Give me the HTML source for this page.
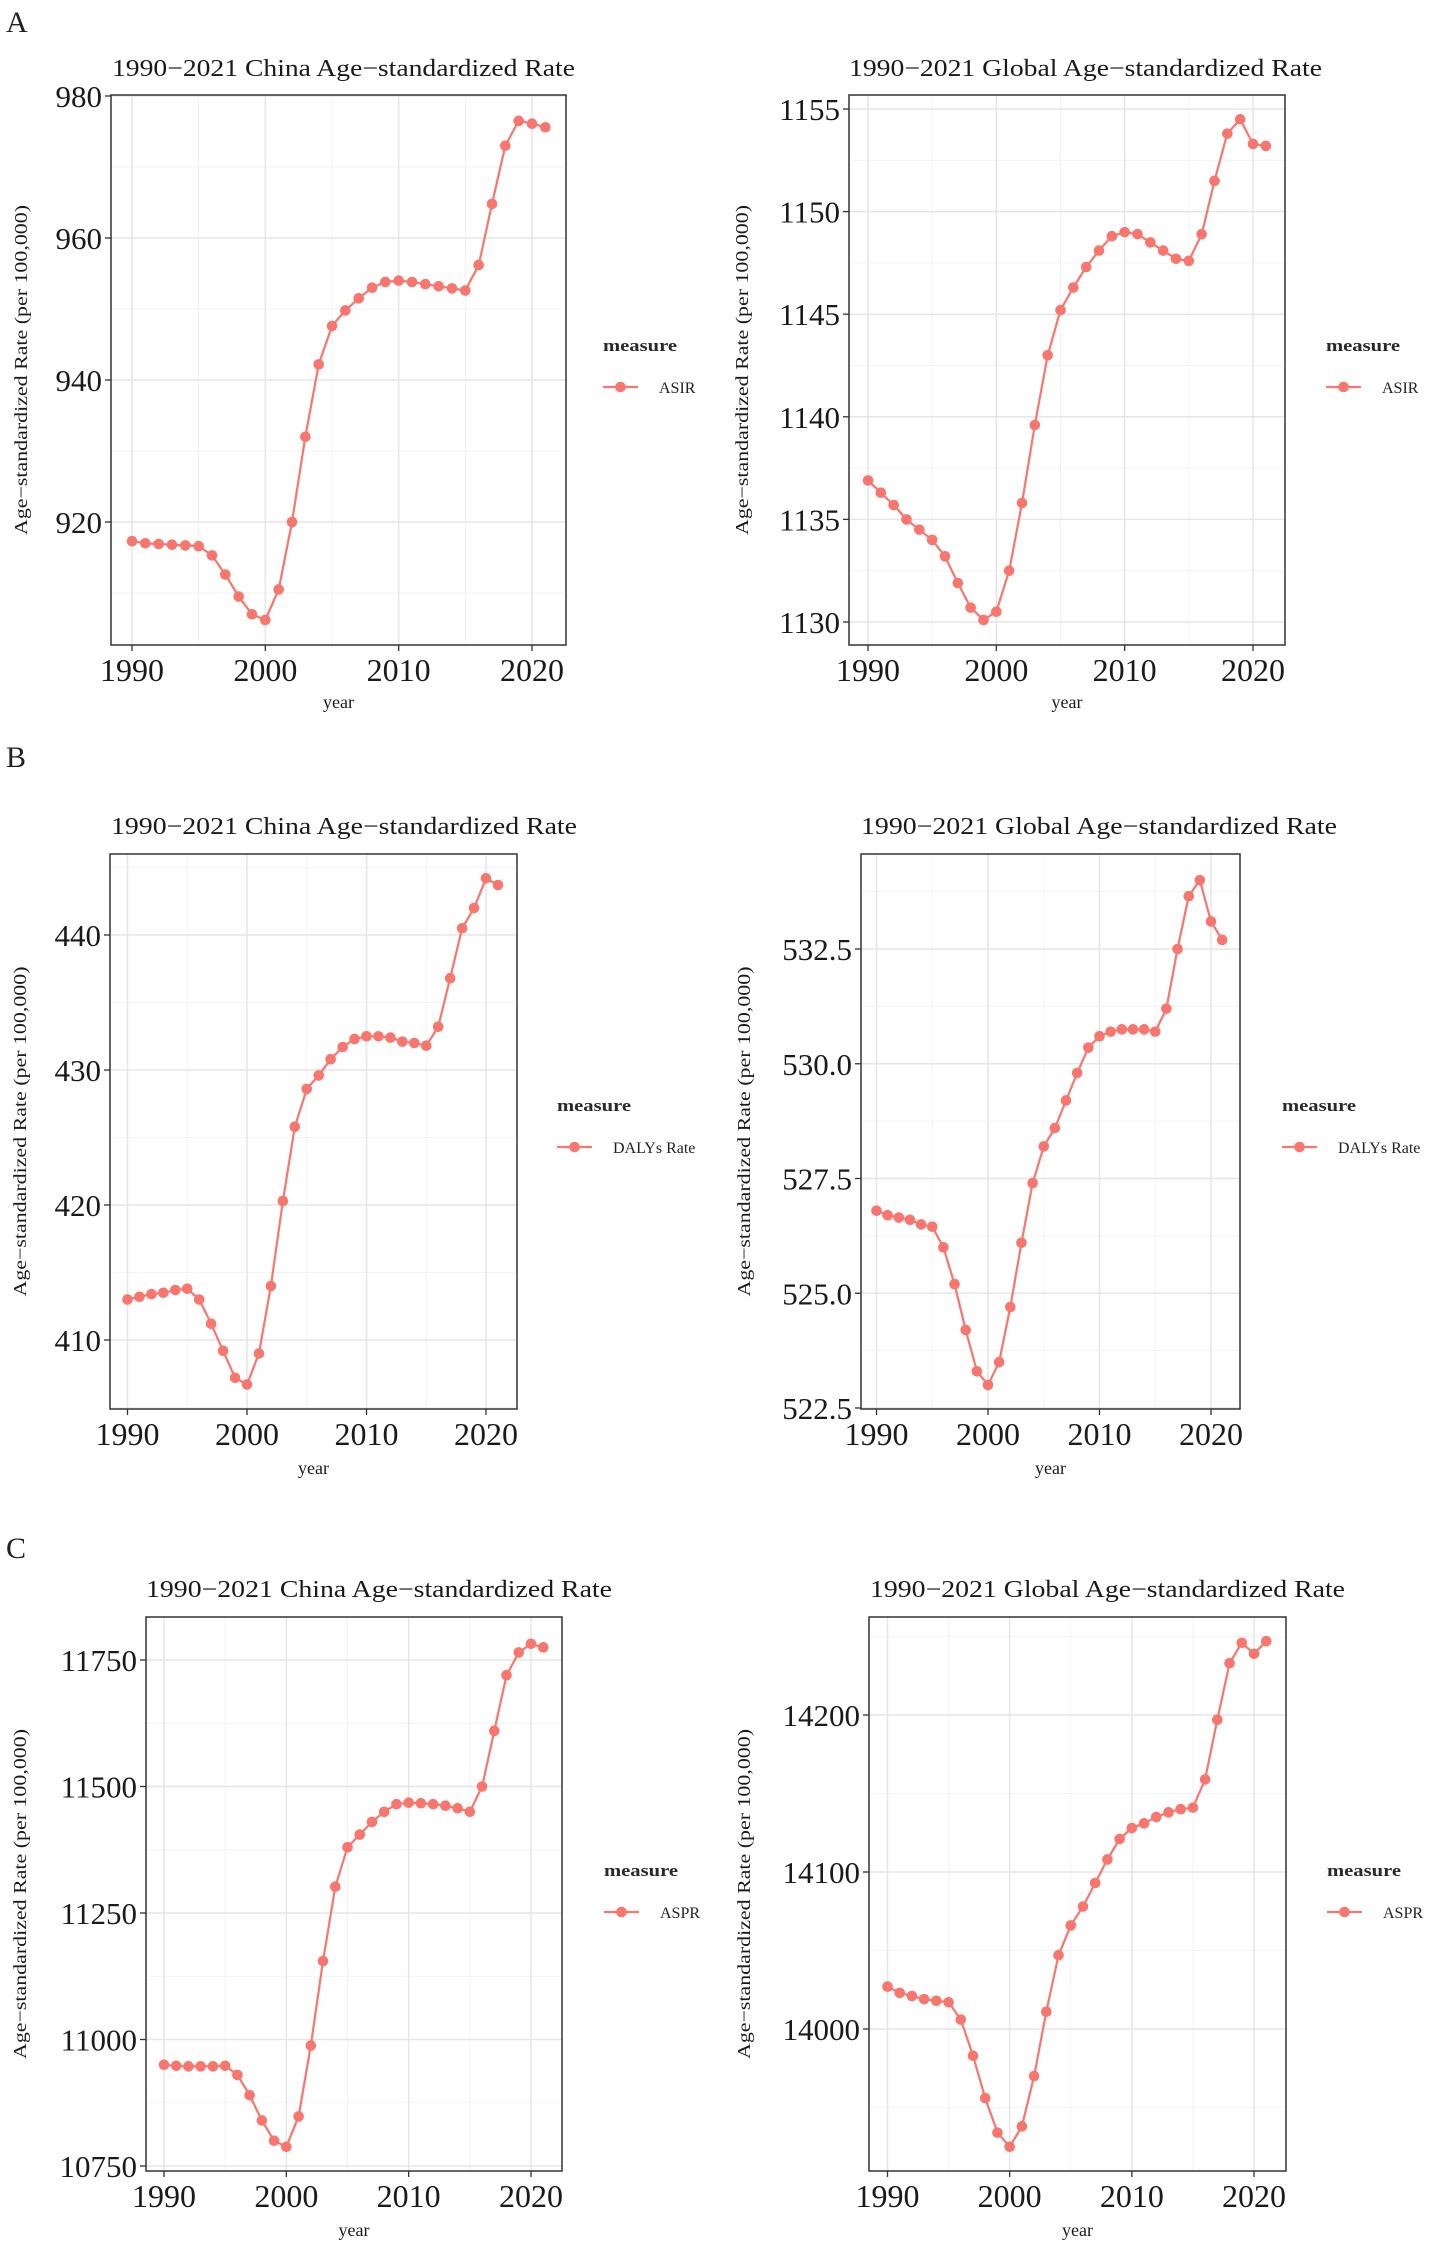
<!DOCTYPE html>
<html><head><meta charset="utf-8">
<style>
html,body{margin:0;padding:0;background:#fff;}
svg{display:block;font-family:"Liberation Serif","Times New Roman",serif;}
</style></head>
<body>
<svg id="fig" width="1430" height="2250" viewBox="0 0 1430 2250" xmlns="http://www.w3.org/2000/svg">
<text x="6" y="32" font-size="30" fill="#222">A</text>
<text x="6" y="767" font-size="30" fill="#222">B</text>
<text x="6" y="1558" font-size="30" fill="#222">C</text>
</svg>
<script>
const years = [1990,1991,1992,1993,1994,1995,1996,1997,1998,1999,2000,2001,2002,2003,2004,2005,2006,2007,2008,2009,2010,2011,2012,2013,2014,2015,2016,2017,2018,2019,2020,2021];
const xTicks = [1990,2000,2010,2020];
const xMinor = [1995,2005,2015];

const chinaASIR = [917.3,917.0,916.9,916.8,916.7,916.6,915.3,912.6,909.5,907.0,906.2,910.5,920.0,932.0,942.2,947.6,949.8,951.5,953.0,953.8,954.0,953.8,953.5,953.2,952.9,952.6,956.2,964.8,973.0,976.5,976.1,975.6];
const globalASIR = [1136.9,1136.3,1135.7,1135.0,1134.5,1134.0,1133.2,1131.9,1130.7,1130.1,1130.5,1132.5,1135.8,1139.6,1143.0,1145.2,1146.3,1147.3,1148.1,1148.8,1149.0,1148.9,1148.5,1148.1,1147.7,1147.6,1148.9,1151.5,1153.8,1154.5,1153.3,1153.2];
const chinaDALY = [413.0,413.2,413.4,413.5,413.7,413.8,413.0,411.2,409.2,407.2,406.7,409.0,414.0,420.3,425.8,428.6,429.6,430.8,431.7,432.3,432.5,432.5,432.4,432.1,432.0,431.8,433.2,436.8,440.5,442.0,444.2,443.7];
const globalDALY = [526.8,526.7,526.65,526.6,526.5,526.45,526.0,525.2,524.2,523.3,523.0,523.5,524.7,526.1,527.4,528.2,528.6,529.2,529.8,530.35,530.6,530.7,530.75,530.75,530.75,530.7,531.2,532.5,533.65,534.0,533.1,532.7];
const chinaASPR = [10950,10948,10947,10947,10947,10948,10930,10890,10840,10800,10788,10848,10988,11155,11302,11380,11405,11430,11450,11465,11468,11467,11465,11462,11457,11450,11500,11610,11720,11765,11782,11775];
const globalASPR = [14027,14023,14021,14019,14018,14017,14006,13983,13956,13934,13925,13938,13970,14011,14047,14066,14078,14093,14108,14121,14128,14131,14135,14138,14140,14141,14159,14197,14233,14246,14239,14247];

const ticksChinaASIR = [920,940,960,980];
const ticksGlobalASIR = [1130,1135,1140,1145,1150,1155];
const ticksChinaDALY = [410,420,430,440];
const ticksGlobalDALY = [522.5,525,527.5,530,532.5];
const labelsGlobalDALY = ["522.5","525.0","527.5","530.0","532.5"];
const ticksChinaASPR = [10750,11000,11250,11500,11750];
const ticksGlobalASPR = [14000,14100,14200];

const NS = "http://www.w3.org/2000/svg";
const svg = document.getElementById('fig');
function mk(tag, attrs, parent){
  const e = document.createElementNS(NS, tag);
  for (const k in attrs) e.setAttribute(k, attrs[k]);
  (parent||svg).appendChild(e);
  return e;
}

function panel(cfg){
  const g = mk('g', {});
  
  
  const {L,R,T,B} = cfg.box;
  const xs = v => cfg.x0 + (v-1990)*(cfg.x2020-cfg.x0)/30;
  const [v1,p1,v2,p2] = cfg.yAnchor;
  const ys = v => p1 + (v-v1)*(p2-p1)/(v2-v1);
  const step = cfg.yTicks[1]-cfg.yTicks[0];
  const minors = [];
  for (let i=-1;i<cfg.yTicks.length;i++){ minors.push(cfg.yTicks[0]+(i+0.5)*step); }
  minors.forEach(v=>{ const y=ys(v); if(y>T&&y<B){ const l=mk('line',{x1:L,x2:R,y1:y,y2:y,stroke:'#f3f3f3','stroke-width':1},g);
      }});
  xMinor.forEach(v=>{ const x=xs(v); const l=mk('line',{x1:x,x2:x,y1:T,y2:B,stroke:'#f3f3f3','stroke-width':1},g);
      });
  cfg.yTicks.forEach((v,i)=>{ const y=ys(v);
    const l=mk('line',{x1:L,x2:R,y1:y,y2:y,stroke:'#e6e6e6','stroke-width':1.5},g);
     
    const t=mk('line',{x1:L-6,x2:L,y1:y,y2:y,stroke:'#333','stroke-width':1.3},g);
     
    const tx=mk('text',{x:L-9,y:y+11,'font-size':31,'text-anchor':'end',fill:'#1a1a1a'},g);
    tx.textContent = cfg.yLabels ? cfg.yLabels[i] : String(v);
     
  });
  xTicks.forEach(v=>{ const x=xs(v);
    const l=mk('line',{x1:x,x2:x,y1:T,y2:B,stroke:'#e6e6e6','stroke-width':1.5},g);
     
    const t=mk('line',{x1:x,x2:x,y1:B,y2:B+6,stroke:'#333','stroke-width':1.3},g);
     
    const tx=mk('text',{x:x,y:B+36,'font-size':32,'text-anchor':'middle',fill:'#1a1a1a'},g);
    tx.textContent=String(v);
     
  });
  const pts = years.map((yr,i)=>xs(yr).toFixed(1)+','+ys(cfg.data[i]).toFixed(1)).join(' ');
  const pl = mk('polyline',{points:pts,fill:'none',stroke:'#F8766D','stroke-width':2.2},g);
   
  years.forEach((yr,i)=>{
    const c=mk('circle',{cx:xs(yr),cy:ys(cfg.data[i]),r:5.3,fill:'#F8766D'},g);
     
  });
  const box=mk('rect',{x:L,y:T,width:R-L,height:B-T,fill:'none',stroke:'#333','stroke-width':1.5},g);
   
  const ti=mk('text',{x:cfg.title[0],y:cfg.title[1]+8,'font-size':24,fill:'#1a1a1a',textLength:cfg.title[2],lengthAdjust:'spacingAndGlyphs'},g);
  ti.textContent=cfg.titleText;
   
  const cy=(T+B)/2;
  const yt=mk('text',{x:0,y:0,'font-size':18,'text-anchor':'middle',fill:'#1a1a1a',transform:`translate(${cfg.yTitleX+6},${cy}) rotate(-90)`,textLength:330,lengthAdjust:'spacingAndGlyphs'},g);
  yt.textContent='Age\u2212standardized Rate (per 100,000)';
   
  const xt=mk('text',{x:(L+R)/2,y:cfg.yearY,'font-size':18,'text-anchor':'middle',fill:'#1a1a1a'},g);
  xt.textContent='year';
   
  const [lx,ly]=cfg.legend;
  const lt=mk('text',{x:lx,y:ly+6,'font-size':17,'font-weight':'bold',fill:'#2a2a2a',textLength:74,lengthAdjust:'spacingAndGlyphs'},g);
  lt.textContent='measure';
   
  const ll=mk('line',{x1:lx,x2:lx+35,y1:ly+42,y2:ly+42,stroke:'#F8766D','stroke-width':2.2},g);
   
  const lc=mk('circle',{cx:lx+17.5,cy:ly+42,r:5.3,fill:'#F8766D'},g);
   
  const lb=mk('text',{x:lx+56,y:ly+48,'font-size':16,fill:'#222'},g);
  lb.textContent=cfg.series;
   
}

panel({name:'chart-china-asir',box:{L:111,R:566,T:95,B:645},x0:132,x2020:532,yAnchor:[980,96,920,522],yTicks:ticksChinaASIR,data:chinaASIR,
  title:[112,68,463],titleText:'1990\u22122021 China Age\u2212standardized Rate',yTitleX:21,yearY:708,legend:[603,345],series:'ASIR'});
panel({name:'chart-global-asir',box:{L:849,R:1285,T:95,B:645},x0:868,x2020:1253,yAnchor:[1155,109,1130,622],yTicks:ticksGlobalASIR,data:globalASIR,
  title:[849,68,473],titleText:'1990\u22122021 Global Age\u2212standardized Rate',yTitleX:742,yearY:708,legend:[1326,345],series:'ASIR'});
panel({name:'chart-china-daly',box:{L:110,R:517,T:854,B:1409},x0:127.5,x2020:486,yAnchor:[440,935,410,1340],yTicks:ticksChinaDALY,data:chinaDALY,
  title:[111,826,466],titleText:'1990\u22122021 China Age\u2212standardized Rate',yTitleX:20,yearY:1474,legend:[557,1105],series:'DALYs Rate'});
panel({name:'chart-global-daly',box:{L:861,R:1240,T:854,B:1409},x0:876.5,x2020:1211,yAnchor:[532.5,949,522.5,1408],yTicks:ticksGlobalDALY,yLabels:labelsGlobalDALY,data:globalDALY,
  title:[861,826,476],titleText:'1990\u22122021 Global Age\u2212standardized Rate',yTitleX:744,yearY:1474,legend:[1282,1105],series:'DALYs Rate'});
panel({name:'chart-china-aspr',box:{L:146,R:562,T:1617,B:2171},x0:164,x2020:531,yAnchor:[11750,1660,10750,2166],yTicks:ticksChinaASPR,data:chinaASPR,
  title:[146,1589,466],titleText:'1990\u22122021 China Age\u2212standardized Rate',yTitleX:20,yearY:2236,legend:[604,1870],series:'ASPR'});
panel({name:'chart-global-aspr',box:{L:869,R:1286,T:1617,B:2171},x0:887.5,x2020:1254,yAnchor:[14200,1715,14000,2029],yTicks:ticksGlobalASPR,data:globalASPR,
  title:[870,1589,475],titleText:'1990\u22122021 Global Age\u2212standardized Rate',yTitleX:744,yearY:2236,legend:[1327,1870],series:'ASPR'});
</script>
</body></html>
